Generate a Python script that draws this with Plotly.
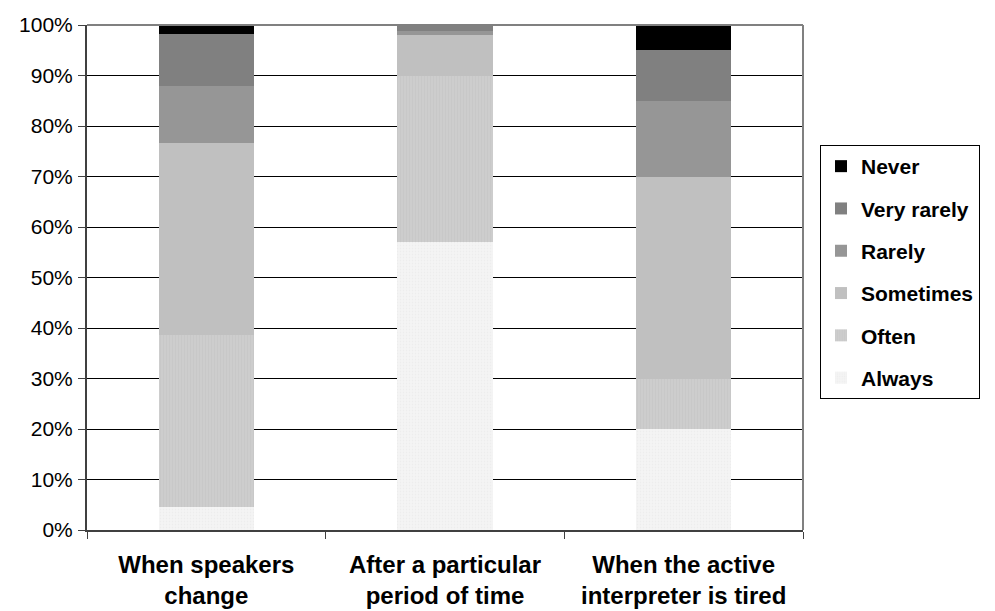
import plotly.graph_objects as go

categories = ["When speakers<br>change", "After a particular<br>period of time", "When the active<br>interpreter is tired"]
series_names = ["Always", "Often", "Sometimes", "Rarely", "Very rarely", "Never"]
always = [4.6, 57.0, 20.0]
often = [34.0, 33.0, 10.0]
sometimes = [38.0, 8.0, 40.0]
rarely = [11.3, 0.8, 15.0]
very_rarely = [10.3, 1.2, 10.0]
never = [1.8, 0.0, 5.0]
y_ticks = [0, 10, 20, 30, 40, 50, 60, 70, 80, 90, 100]
y_tick_labels = ["0%", "10%", "20%", "30%", "40%", "50%", "60%", "70%", "80%", "90%", "100%"]

values = [always, often, sometimes, rarely, very_rarely, never]
colors = ["#F4F4F4", "#CBCBCB", "#C0C0C0", "#969696", "#808080", "#000000"]
patterns = [
    dict(shape=".", fgcolor="#E6E6E6", bgcolor="#F5F5F5", size=3, solidity=0.3),
    dict(shape="|", fgcolor="#C2C2C2", bgcolor="#CECECE", size=3, solidity=0.4),
    None, None, None, None,
]

# the page shows the figure offset by the body margin (8px); plot area in figure coords
PL, PR, PT, PB = 79, 795, 17, 522

fig = go.Figure()
n = len(series_names)
for i, (name, vals, col, pat) in enumerate(zip(series_names, values, colors, patterns)):
    marker = dict(color=col, line=dict(width=0))
    if pat:
        marker["pattern"] = pat
    fig.add_trace(go.Bar(name=name, x=categories, y=vals, marker=marker,
                         legendgroup=name, legendrank=n - i, hoverinfo="skip"))

fig.update_layout(
    barmode="stack",
    bargap=0.6,
    width=995, height=611,
    margin=dict(l=PL, r=995 - PR, t=PT, b=611 - PB, autoexpand=False),
    paper_bgcolor="white", plot_bgcolor="white",
    font=dict(family="Liberation Sans, Arial, sans-serif", color="black"),
    legend=dict(
        x=(812 - PL) / (PR - PL), xanchor="left",
        y=(PB - 137) / (PB - PT), yanchor="top",
        traceorder="grouped",
        tracegroupgap=12,
        bordercolor="black", borderwidth=1, bgcolor="white",
        font=dict(family="Liberation Sans, Arial, sans-serif", size=21, color="black", weight="bold"),
    ),
    showlegend=True,
)
fig.update_xaxes(
    automargin=False,
    showgrid=False, showline=True, linecolor="#404040", linewidth=2,
    ticks="outside", tickson="boundaries", ticklen=7, tickcolor="#404040",
    tickfont=dict(size=24, weight="bold", color="black"),
    ticklabelstandoff=12,
)
fig.update_yaxes(
    automargin=False,
    range=[0, 100], tickmode="array", tickvals=y_ticks, ticktext=y_tick_labels,
    showgrid=True, gridcolor="black", gridwidth=1,
    showline=True, linecolor="#404040", linewidth=2,
    ticks="outside", ticklen=7, tickcolor="#404040",
    tickfont=dict(size=21, color="black"),
    ticklabelstandoff=1, zeroline=False,
)
# gray frame on top and right of plot area
fig.add_shape(type="line", xref="x domain", yref="y domain", x0=0, x1=1, y0=1, y1=1,
              line=dict(color="#808080", width=2))
fig.add_shape(type="line", xref="x domain", yref="y domain", x0=1, x1=1, y0=0, y1=1,
              line=dict(color="#808080", width=2))

fig.write_html("out.html")
